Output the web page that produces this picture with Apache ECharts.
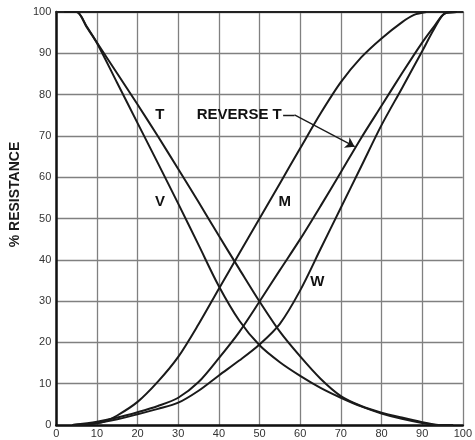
<!DOCTYPE html>
<html lang="en">
<head>
    <meta charset="UTF-8">
    <title>% Resistance curves</title>
    <script src="https://cdn.jsdelivr.net/npm/echarts@6/dist/echarts.min.js"></script>
    <style>
        html, body { margin: 0; padding: 0; background: #fff; }
    </style>
</head>
<body>
<div id="chart" style="width: 475px;height: 440px;"></div>
<script>
    // curves: [% rotation, % resistance]
    var curveT = [[2, 100], [5, 100], [7.5, 96.5], [10, 92.6], [15, 85.1], [20, 77.6], [25, 69.9], [30, 62], [35, 54],
        [40, 45.8], [45, 37.8], [50, 29.9], [55, 22.6], [60, 16.6], [65, 11.2], [70, 7], [75, 4.6], [80, 3],
        [85, 1.8], [90, 0.7], [94, 0], [97.6, 0]];
    var curveV = [[2, 100], [5, 100], [7.5, 96.3], [10, 92.5], [15, 82.8], [20, 73.1], [25, 63.4], [30, 53.6],
        [35, 43.6], [40, 33.6], [45, 25.3], [50, 19.3], [55, 15.2], [60, 11.9], [65, 9], [70, 6.6], [75, 4.5],
        [80, 2.8], [85, 1.5], [90, 0.5], [94, 0], [97.6, 0]];
    var curveM = [[4, 0], [8, 0.2], [10, 0.4], [12, 0.9], [15, 2.3], [20, 5.6], [25, 10.5], [30, 16.5], [35, 24.4],
        [40, 33], [45, 41.5], [50, 50], [55, 58.5], [60, 67], [65, 75.4], [70, 83], [75, 89], [80, 93.6],
        [85, 97.5], [88, 99.3], [91, 100]];
    var curveRevT = [[4, 0], [10, 0.8], [15, 1.8], [20, 3.1], [25, 4.6], [30, 6.6], [35, 10.4], [40, 16.2],
        [45, 22.5], [50, 29.9], [55, 37.5], [60, 45], [65, 53], [70, 61.2], [75, 69.5], [80, 77.3], [85, 85.1],
        [90, 92.6], [93, 96.6], [95.5, 99.6], [98.5, 100]];
    var curveW = [[4, 0], [10, 0.5], [15, 1.4], [20, 2.6], [25, 3.9], [30, 5.4], [35, 8.3], [40, 12], [45, 15.6],
        [50, 19.5], [55, 24.5], [60, 32.6], [65, 42.6], [70, 52.6], [75, 62.6], [80, 72.6], [85, 81.5],
        [90, 90.5], [93, 96], [95.5, 99.6], [98.5, 100]];

    // curve names placed on the plot
    var labelNames = ['T', 'V', 'REVERSE T', 'M', 'W'];
    var labelX = [25.5, 25.5, 45, 56.2, 64.2];
    var labelY = [75.1, 54.1, 75.1, 54.1, 34.7];
    // leader from "REVERSE T" to its curve: short level stroke, then the arrow
    var leaderPath = [[55.8, 75.1], [58.6, 75.1]];
    var arrowPath = [[58.6, 75.1], [73.4, 67.4]];

    var myChart = echarts.init(document.getElementById('chart'));

    function curve(data) {
        return {
            type: 'line',
            data: data,
            smooth: 0.3,
            symbol: 'none',
            lineStyle: {color: '#1a1a1a', width: 2},
            z: 3
        };
    }

    function leader(path, ends) {
        return {
            type: 'lines',
            coordinateSystem: 'cartesian2d',
            symbol: ends,
            symbolSize: [7, 9],
            data: [{coords: path}],
            lineStyle: {color: '#1a1a1a', width: 1.3, opacity: 1, curveness: 0},
            z: 5
        };
    }

    var labelData = labelNames.map(function (n, i) {
        return {name: n, value: [labelX[i], labelY[i]]};
    });

    var option = {
        animation: false,
        grid: {left: 55, right: 2, top: 12, bottom: 15},
        xAxis: [{
            type: 'value',
            min: 0, max: 100, interval: 10,
            axisLine: {lineStyle: {color: '#111', width: 2.5}},
            axisTick: {show: false},
            axisLabel: {color: '#333', fontSize: 11, fontFamily: 'Liberation Sans', margin: 3},
            splitLine: {lineStyle: {color: '#808080', width: 1.3}}
        }, {
            type: 'value',
            position: 'top',
            min: 0, max: 100,
            axisLine: {show: true, lineStyle: {color: '#222', width: 2}},
            axisTick: {show: false},
            axisLabel: {show: false},
            splitLine: {show: false}
        }],
        yAxis: {
            type: 'value',
            min: 0, max: 100, interval: 10,
            name: '% RESISTANCE',
            nameLocation: 'middle',
            nameGap: 33,
            nameTextStyle: {
                color: '#1a1a1a', fontSize: 14, fontWeight: 'bold', fontFamily: 'Liberation Sans',
                padding: [0, 0, 0, 48]
            },
            axisLine: {show: true, lineStyle: {color: '#111', width: 2.5}},
            axisTick: {show: false},
            axisLabel: {color: '#333', fontSize: 11, fontFamily: 'Liberation Sans', margin: 5},
            splitLine: {lineStyle: {color: '#808080', width: 1.3}}
        },
        series: [
            curve(curveT),
            curve(curveV),
            curve(curveM),
            curve(curveRevT),
            curve(curveW),
            {
                type: 'scatter',
                data: labelData,
                symbolSize: 0,
                itemStyle: {opacity: 1},
                label: {
                    show: true,
                    position: 'inside',
                    formatter: '{b}',
                    color: '#111',
                    opacity: 1,
                    fontSize: 15,
                    fontWeight: 'bold',
                    fontFamily: 'Liberation Sans'
                },
                z: 5
            },
            leader(leaderPath, ['none', 'none']),
            leader(arrowPath, ['none', 'arrow'])
        ]
    };

    myChart.setOption(option);
</script>
</body>
</html>
